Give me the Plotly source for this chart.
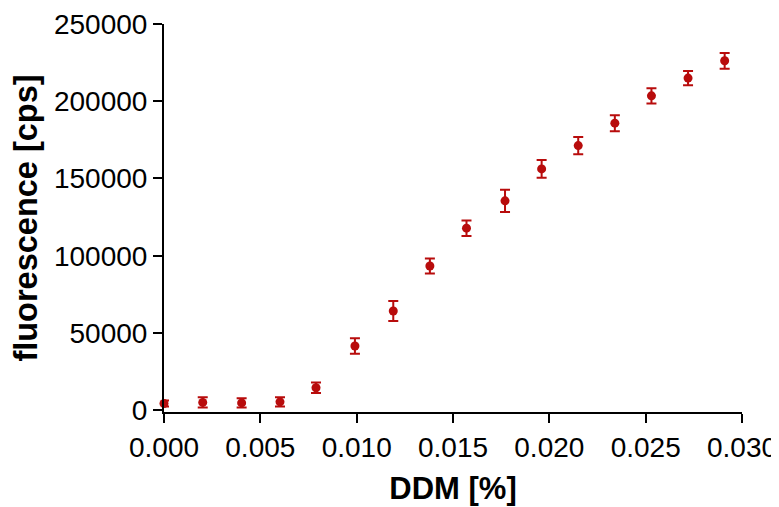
import plotly.graph_objects as go

# DDM concentration [%]
ddm = [0.0, 0.00201, 0.00403, 0.00602, 0.00789, 0.00991, 0.0119, 0.0138,
       0.0157, 0.0177, 0.0196, 0.0215, 0.0234, 0.0253, 0.0272, 0.0291]

# fluorescence [cps], mean and error
fluorescence = [4300, 5000, 4700, 5400, 14500, 41500, 64200, 93300,
                117800, 135500, 156200, 171300, 185800, 203500, 215000, 226200]
fehler = [2000, 3300, 3000, 3000, 3400, 5000, 6500, 4900,
          5000, 7200, 5700, 5600, 5200, 4900, 4600, 5100]

x_ticks = [0.000, 0.005, 0.010, 0.015, 0.020, 0.025, 0.030]
x_ticktext = ["0.000", "0.005", "0.010", "0.015", "0.020", "0.025", "0.030"]
y_ticks = [0, 50000, 100000, 150000, 200000, 250000]
y_ticktext = ["0", "50000", "100000", "150000", "200000", "250000"]

rot = "#B80C0C"

fig = go.Figure()

fig.add_trace(
    go.Scatter(
        x=ddm,
        y=fluorescence,
        mode="markers",
        marker=dict(size=9, color=rot),
        error_y=dict(type="data", array=fehler, color=rot, thickness=2, width=5),
        cliponaxis=False,
        showlegend=False,
    )
)

# die Seite hat 8px Rand (body margin), daher Ränder etwas verschoben
fig.update_layout(
    width=779,
    height=507,
    margin=dict(l=156, r=45, t=16, b=103),
    plot_bgcolor="white",
    paper_bgcolor="white",
    font=dict(family="Liberation Sans, Arial, sans-serif", color="black"),
)

fig.update_xaxes(
    range=[0, 0.030],
    tickvals=x_ticks,
    ticktext=x_ticktext,
    showline=True,
    linecolor="black",
    linewidth=2,
    ticks="outside",
    ticklen=9,
    tickwidth=2,
    tickcolor="black",
    showgrid=False,
    zeroline=False,
    automargin=False,
    tickfont=dict(size=28),
    title=dict(text="<b>DDM [%]</b>", font=dict(size=31), standoff=16),
)

fig.update_yaxes(
    range=[-1200, 250000],
    tickvals=y_ticks,
    ticktext=y_ticktext,
    showline=True,
    linecolor="black",
    linewidth=2,
    ticks="outside",
    ticklen=9,
    tickwidth=2,
    tickcolor="black",
    showgrid=False,
    zeroline=False,
    automargin=False,
    tickfont=dict(size=28),
    title=dict(text="<b>fluorescence [cps]</b>", font=dict(size=32.5), standoff=12),
)

fig.write_html("out.html")
